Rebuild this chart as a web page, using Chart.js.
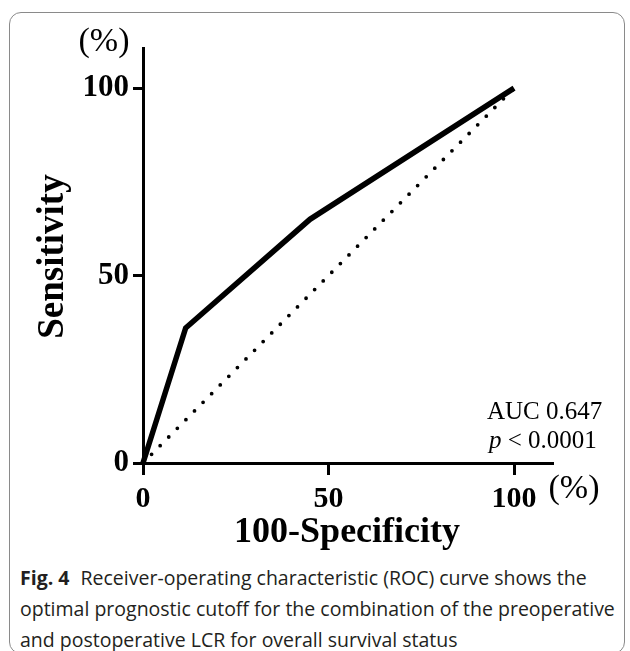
<!DOCTYPE html>
<html>
<head>
<meta charset="utf-8">
<script src="https://cdn.jsdelivr.net/npm/chart.js@4.4.1/dist/chart.umd.min.js"></script>
<style>
  html, body { margin: 0; padding: 0; background: #fff; }
  body { width: 630px; height: 651px; position: relative; overflow: hidden; }
  #frame {
    position: absolute; left: 9px; top: 12px; width: 616px; height: 642px;
    border: 1px solid #8a8a8a; border-radius: 12px; box-sizing: border-box;
  }
  #plot { position: absolute; left: 0; top: 0; }
  #caption {
    position: absolute; left: 20px; top: 562px; width: 605px;
    font-family: "Open Sans", "Noto Sans", sans-serif; font-size: 19.5px;
    line-height: 31px; color: #231f20; white-space: nowrap;
  }
  #caption b { font-weight: 700; margin-right: 6px; }
</style>
</head>
<body>
<div id="frame"></div>
<canvas id="plot" width="630" height="560"></canvas>
<div id="caption"><b>Fig. 4</b> Receiver-operating characteristic (ROC) curve shows the<br>optimal prognostic cutoff for the combination of the preoperative<br>and postoperative LCR for overall survival status</div>
<script>
// ROC curve: 100-Specificity (%) vs Sensitivity (%)
const rocSpecificity = [0, 11.5, 45, 100];
const rocSensitivity = [0, 36, 65, 100];
// chance line
const refX = [0, 100];
const refY = [0, 100];
const tickValues = [0, 50, 100];
const aucLabel = 'AUC 0.647';
const pLabel = '< 0.0001';

const toPoints = (xs, ys) => xs.map((x, i) => ({ x: x, y: ys[i] }));

const serif = '"Liberation Serif", "Times New Roman", serif';

const annotations = {
  id: 'annotations',
  afterDraw(chart) {
    const ctx = chart.ctx;
    const xs = chart.scales.x, ys = chart.scales.y;
    ctx.save();
    ctx.fillStyle = '#000';
    // axis titles
    ctx.font = 'bold 36px ' + serif;
    ctx.textAlign = 'center';
    ctx.textBaseline = 'middle';
    ctx.fillText('100-Specificity', xs.getPixelForValue(55), 533);
    ctx.save();
    ctx.translate(53, ys.getPixelForValue(50) - 19);
    ctx.rotate(-Math.PI / 2);
    ctx.font = 'bold 37px ' + serif;
    ctx.fillText('Sensitivity', 0, 0);
    ctx.restore();
    // units
    ctx.font = '34px ' + serif;
    ctx.fillText('(%)', 104, 42);
    ctx.fillText('(%)', 574, 489);
    // AUC annotation
    ctx.font = '25px ' + serif;
    ctx.textAlign = 'left';
    ctx.fillText(aucLabel, 487, 412);
    ctx.font = 'italic 25px ' + serif;
    ctx.fillText('p', 489, 441);
    const pw = ctx.measureText('p ').width;
    ctx.font = '25px ' + serif;
    ctx.fillText(pLabel, 489 + pw, 441);
    ctx.restore();
  }
};

new Chart(document.getElementById('plot'), {
  type: 'line',
  data: {
    datasets: [
      {
        data: toPoints(rocSpecificity, rocSensitivity),
        borderColor: '#000',
        borderWidth: 5.5,
        pointRadius: 0,
        tension: 0,
        clip: false,
        borderJoinStyle: 'miter'
      },
      {
        data: toPoints(refX, refY),
        borderColor: '#000',
        borderWidth: 3.8,
        borderDash: [0, 12.2],
        borderCapStyle: 'round',
        pointRadius: 0,
        tension: 0,
        clip: false
      }
    ]
  },
  options: {
    responsive: false,
    animation: false,
    devicePixelRatio: 1,
    layout: { padding: { left: 0, top: 48, right: 77, bottom: 0 } },
    plugins: { legend: { display: false }, tooltip: { enabled: false } },
    scales: {
      x: {
        type: 'linear',
        min: 0,
        max: 110.5,
        afterBuildTicks: s => { s.ticks = tickValues.map(v => ({ value: v })); },
        afterFit: s => { s.height = 97; },
        grid: { drawOnChartArea: false, drawTicks: true, tickLength: 12, tickWidth: 3, tickColor: '#000' },
        border: { display: true, color: '#000', width: 3 },
        ticks: { color: '#000', padding: 6, maxRotation: 0, font: { family: serif, size: 30, weight: 'bold' } }
      },
      y: {
        type: 'linear',
        min: 0,
        max: 110.7,
        afterBuildTicks: s => { s.ticks = tickValues.map(v => ({ value: v })); },
        afterFit: s => { s.width = 143; },
        grid: { drawOnChartArea: false, drawTicks: true, tickLength: 10, tickWidth: 3, tickColor: '#000' },
        border: { display: true, color: '#000', width: 3 },
        ticks: { color: '#000', padding: 4, font: { family: serif, size: 31, weight: 'bold' } }
      }
    }
  },
  plugins: [annotations]
});
</script>
</body>
</html>
